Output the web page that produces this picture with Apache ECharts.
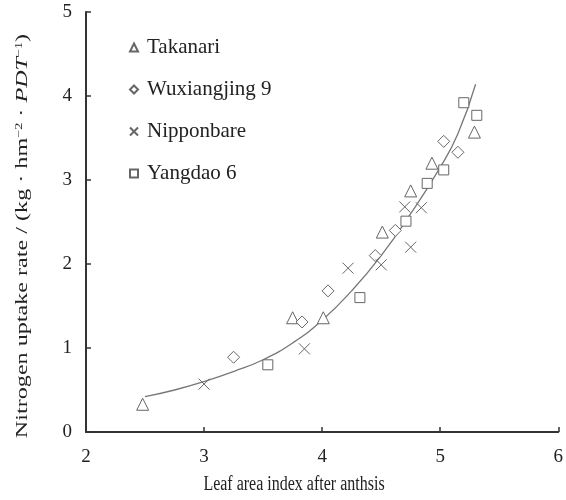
<!DOCTYPE html>
<html>
<head>
<meta charset="utf-8">
<script src="https://cdn.jsdelivr.net/npm/echarts@6/dist/echarts.min.js"></script>
<style>html,body{margin:0;padding:0;background:#fff}#c{width:566px;height:500px}</style>
</head>
<body>
<div id="c"></div>
<script>
var takanariX = [2.48, 3.75, 4.01, 4.51, 4.75, 4.93, 5.29];
var takanariY = [0.33, 1.36, 1.36, 2.38, 2.87, 3.20, 3.57];
var wuxiangX = [3.25, 3.83, 4.05, 4.45, 4.62, 5.03, 5.15];
var wuxiangY = [0.89, 1.31, 1.68, 2.10, 2.40, 3.46, 3.33];
var nipponX = [3.00, 3.85, 4.22, 4.50, 4.75, 4.70, 4.84];
var nipponY = [0.57, 0.99, 1.95, 1.99, 2.20, 2.68, 2.67];
var yangdaoX = [3.54, 4.32, 4.71, 4.89, 5.03, 5.20, 5.31];
var yangdaoY = [0.80, 1.60, 2.51, 2.96, 3.12, 3.92, 3.77];
var fitX = [2.5, 2.75, 3.0, 3.25, 3.5, 3.75, 4.0, 4.25, 4.5, 4.75, 5.0, 5.15, 5.3];
var fitY = [0.42, 0.50, 0.60, 0.72, 0.86, 1.06, 1.33, 1.68, 2.10, 2.60, 3.15, 3.55, 4.14];
var xTicks = [2, 3, 4, 5, 6];
var yTicks = [0, 1, 2, 3, 4, 5];
var xTitle = 'Leaf area index after anthsis';
var legendNames = ['Takanari', 'Wuxiangjing 9', 'Nipponbare', 'Yangdao 6'];

function pairs(xs, ys) { return xs.map(function (x, i) { return [x, ys[i]]; }); }

var gray = '#666';
var font = '"Liberation Serif", "Times New Roman", serif';
var crossPath = 'path://M0,0L10,10M10,0L0,10';

function sc(name, xs, ys, symbol, size) {
  return {
    name: name, type: 'scatter', data: pairs(xs, ys),
    symbol: symbol, symbolSize: size,
    itemStyle: { color: symbol === crossPath ? 'rgba(0,0,0,0)' : '#fff', borderColor: gray, borderWidth: 1, opacity: 1 },
    z: 3
  };
}

var chart = echarts.init(document.getElementById('c'));
chart.setOption({
  animation: false,
  backgroundColor: '#fff',
  textStyle: { fontFamily: font },
  grid: { left: 86, right: 4, top: 12, bottom: 68, containLabel: false },
  legend: {
    orient: 'vertical', left: 124, top: 32, itemGap: 21,
    itemWidth: 8, itemHeight: 8,
    textStyle: { fontFamily: font, fontSize: 21, color: '#222', padding: [0, 0, 0, 4] },
    data: legendNames
  },
  graphic: [{
    type: 'text', x: 23, y: 236, rotation: Math.PI / 2, scaleX: 1.42, scaleY: 1,
    style: {
      text: '{t|Nitrogen uptake rate / (kg · hm}{s|−2}{t| · }{i|PDT}{s|−1}{t|)}',
      align: 'center', verticalAlign: 'middle',
      rich: {
        t: { fontFamily: font, fontSize: 17, fill: '#222' },
        i: { fontFamily: font, fontSize: 17, fontStyle: 'italic', fill: '#222' },
        s: { fontFamily: font, fontSize: 10, fill: '#222', verticalAlign: 'top' }
      }
    }
  }, {
    type: 'text', x: 294, y: 485, scaleX: 1, scaleY: 1.3,
    style: {
      text: xTitle, align: 'center', verticalAlign: 'middle',
      fontFamily: font, fontSize: 16, fill: '#222'
    }
  }],
  xAxis: {
    type: 'value', min: xTicks[0], max: xTicks[xTicks.length - 1], interval: 1,
    axisLine: { lineStyle: { color: '#333', width: 2 } },
    axisTick: { inside: true, length: 5, lineStyle: { color: '#333', width: 1.5 } },
    axisLabel: { fontFamily: font, fontSize: 19, color: '#222', margin: 16 },
    splitLine: { show: false }
  },
  yAxis: {
    type: 'value', min: yTicks[0], max: yTicks[yTicks.length - 1], interval: 1,
    axisLine: { show: true, lineStyle: { color: '#333', width: 2 } },
    axisTick: { show: true, inside: true, length: 5, lineStyle: { color: '#333', width: 1.5 } },
    axisLabel: { fontFamily: font, fontSize: 19, color: '#222', margin: 14 },
    splitLine: { show: false }
  },
  series: [
    sc(legendNames[0], takanariX, takanariY, 'triangle', 12),
    sc(legendNames[1], wuxiangX, wuxiangY, 'diamond', 12),
    sc(legendNames[2], nipponX, nipponY, crossPath, 11),
    sc(legendNames[3], yangdaoX, yangdaoY, 'rect', 10),
    {
      name: 'fit', type: 'line', data: pairs(fitX, fitY), smooth: true,
      showSymbol: false, symbol: 'none',
      lineStyle: { color: '#777', width: 1.3 }, z: 2
    }
  ]
});
</script>
</body>
</html>
